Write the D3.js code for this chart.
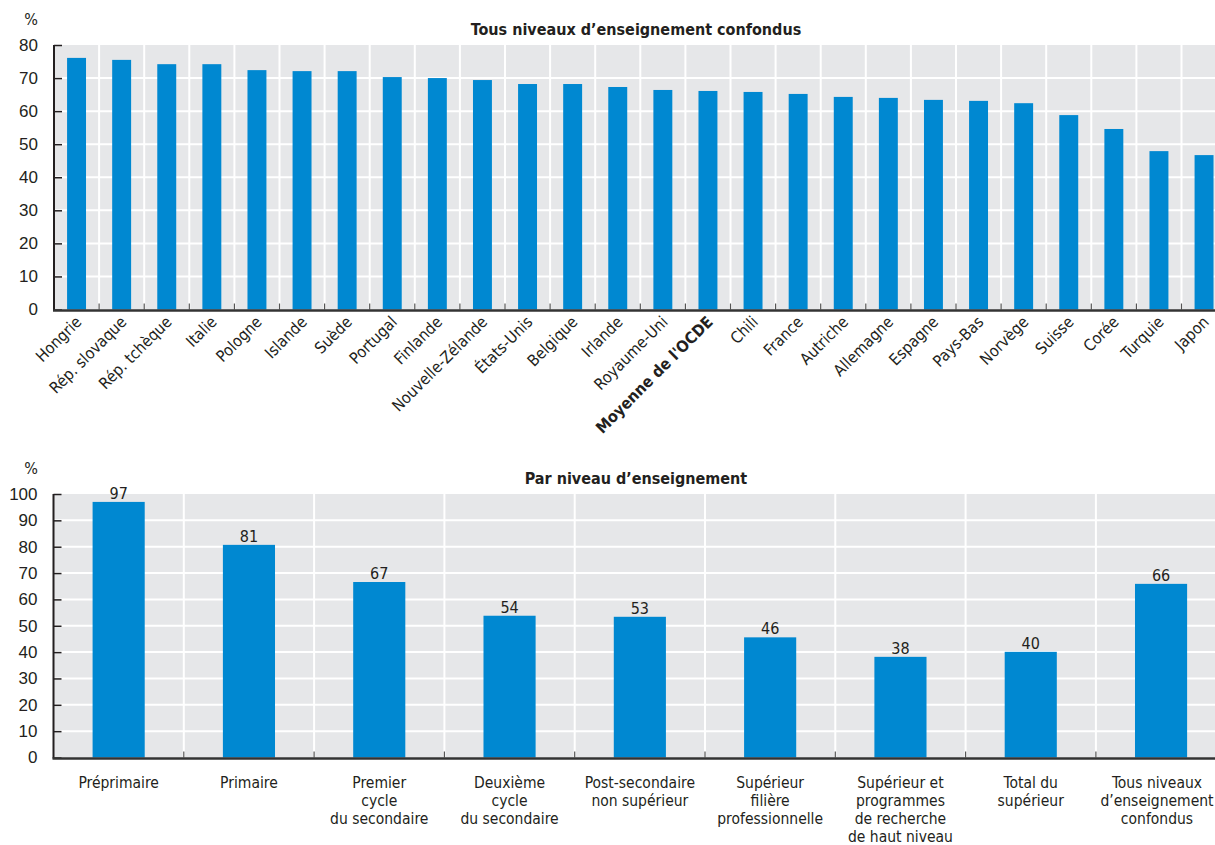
<!DOCTYPE html>
<html><head><meta charset="utf-8">
<script src="https://cdn.jsdelivr.net/npm/d3@7/dist/d3.min.js"></script>
<style>
body{margin:0;background:#fff;}
svg{display:block;font-family:"Liberation Sans Narrow","DejaVu Sans Condensed","Arial Narrow",sans-serif;}
</style></head>
<body><svg id="c" width="1215" height="845"></svg>
<script>
const countries = ["Hongrie","Rép. slovaque","Rép. tchèque","Italie","Pologne","Islande","Suède","Portugal","Finlande","Nouvelle-Zélande","États-Unis","Belgique","Irlande","Royaume-Uni","Moyenne de l'OCDE","Chili","France","Autriche","Allemagne","Espagne","Pays-Bas","Norvège","Suisse","Corée","Turquie","Japon"];
const countryValues = [76.1,75.5,74.2,74.2,72.4,72.1,72.1,70.3,70.0,69.4,68.2,68.2,67.3,66.4,66.1,65.8,65.2,64.3,64.0,63.4,63.1,62.4,58.8,54.6,47.9,46.7];
const topTicks = [0,10,20,30,40,50,60,70,80];
const levels = [["Préprimaire"],["Primaire"],["Premier","cycle","du secondaire"],["Deuxième","cycle","du secondaire"],["Post-secondaire","non supérieur"],["Supérieur","filière","professionnelle"],["Supérieur et","programmes","de recherche","de haut niveau"],["Total du","supérieur"],["Tous niveaux","d’enseignement","confondus"]];
const levelValues = [97.0,80.7,66.6,53.8,53.4,45.6,38.2,40.1,65.9];
const bottomTicks = [0,10,20,30,40,50,60,70,80,90,100];
const topTitle = "Tous niveaux d’enseignement confondus";
const bottomTitle = "Par niveau d’enseignement";

const svg = d3.select("#c");
const BAR = "#0088d1", BG = "#e6e7e9", TXT = "#231f20";

function panel(o){
  const g = svg.append("g");
  const x = d3.scaleBand().domain(o.cats.map((d,i)=>i)).range([o.left,o.right]).paddingInner(0).paddingOuter(0);
  const y = d3.scaleLinear().domain([0,o.max]).range([o.bottom,o.top]);
  g.append("rect").attr("x",o.left).attr("y",o.top).attr("width",o.right-o.left).attr("height",o.bottom-o.top).attr("fill",BG);
  g.selectAll(".hg").data(o.ticks.filter(t=>t>0&&t<o.max)).join("line")
    .attr("x1",o.left).attr("x2",o.right).attr("y1",d=>y(d)).attr("y2",d=>y(d))
    .attr("stroke","#fff").attr("stroke-width",2);
  const bounds = o.cats.map((d,i)=>x(i)).slice(1);
  g.selectAll(".vg").data(bounds).join("line")
    .attr("x1",d=>d).attr("x2",d=>d).attr("y1",o.top).attr("y2",o.bottom)
    .attr("stroke","#fff").attr("stroke-width",2);
  const bw = x.bandwidth()*o.barFrac;
  g.selectAll(".bar").data(o.vals).join("rect")
    .attr("x",(d,i)=>x(i)+(x.bandwidth()-bw)/2).attr("width",bw)
    .attr("y",d=>y(d)).attr("height",d=>o.bottom-y(d)).attr("fill",BAR);
  g.selectAll(".bt").data(bounds).join("line")
    .attr("x1",d=>d).attr("x2",d=>d).attr("y1",o.bottom).attr("y2",o.bottom-6)
    .attr("stroke","#555").attr("stroke-width",1.2);
  const ya = d3.axisLeft(y).tickValues(o.ticks).tickSize(0).tickPadding(0);
  const yg = g.append("g").attr("transform",`translate(${o.left},0)`).call(ya);
  yg.select(".domain").remove();
  yg.selectAll(".tick text").attr("x",-16).attr("font-size",17).attr("fill",TXT).style("font-family","inherit");
  yg.selectAll(".tick").append("line").attr("x1",0).attr("x2",8).attr("stroke",TXT).attr("stroke-width",1.5);
  g.append("line").attr("x1",o.left).attr("x2",o.left).attr("y1",o.top).attr("y2",o.bottom+1).attr("stroke",TXT).attr("stroke-width",2);
  g.append("line").attr("x1",o.left-1).attr("x2",o.right).attr("y1",o.bottom+1).attr("y2",o.bottom+1).attr("stroke","#333").attr("stroke-width",2.5);
  g.append("text").attr("x",31).attr("y",o.top-20).attr("text-anchor","middle").attr("font-size",16).attr("fill",TXT).text("%");
  g.append("text").attr("x",636).attr("y",o.top-10).attr("text-anchor","middle").attr("font-size",16).attr("font-weight","bold").attr("fill",TXT).text(o.title);
  return {g,x,y,bw};
}

const t = panel({cats:countries, vals:countryValues, left:54, right:54+26*45.1, top:45, bottom:309.5, max:80, ticks:topTicks, barFrac:0.42, title:topTitle});
t.g.selectAll(".cl").data(countries).join("text")
  .attr("transform",(d,i)=>`translate(${t.x(i)+t.x.bandwidth()/2-2},${315}) rotate(-45)`)
  .attr("text-anchor","end").attr("dy","0.7em").attr("font-size",16).attr("fill",TXT)
  .attr("font-weight",d=>d==="Moyenne de l'OCDE"?"bold":"normal")
  .text(d=>d);

const b = panel({cats:levels, vals:levelValues, left:53.5, right:53.5+9*130.3, top:494, bottom:757.5, max:100, ticks:bottomTicks, barFrac:0.4, title:bottomTitle});
b.g.selectAll(".vl").data(levelValues).join("text")
  .attr("x",(d,i)=>b.x(i)+b.x.bandwidth()/2).attr("y",d=>b.y(d)-3)
  .attr("text-anchor","middle").attr("font-size",16).attr("fill",TXT).text(d=>Math.round(d));
const lt = b.g.selectAll(".lt").data(levels).join("text")
  .attr("x",(d,i)=>Math.min(b.x(i)+b.x.bandwidth()/2,1157)).attr("y",788)
  .attr("text-anchor","middle").attr("font-size",15.5).attr("fill",TXT);
lt.selectAll("tspan").data(d=>d).join("tspan")
  .attr("x",function(){return this.parentNode.getAttribute("x");})
  .attr("dy",(d,i)=>i===0?0:18).text(d=>d);
</script></body></html>
